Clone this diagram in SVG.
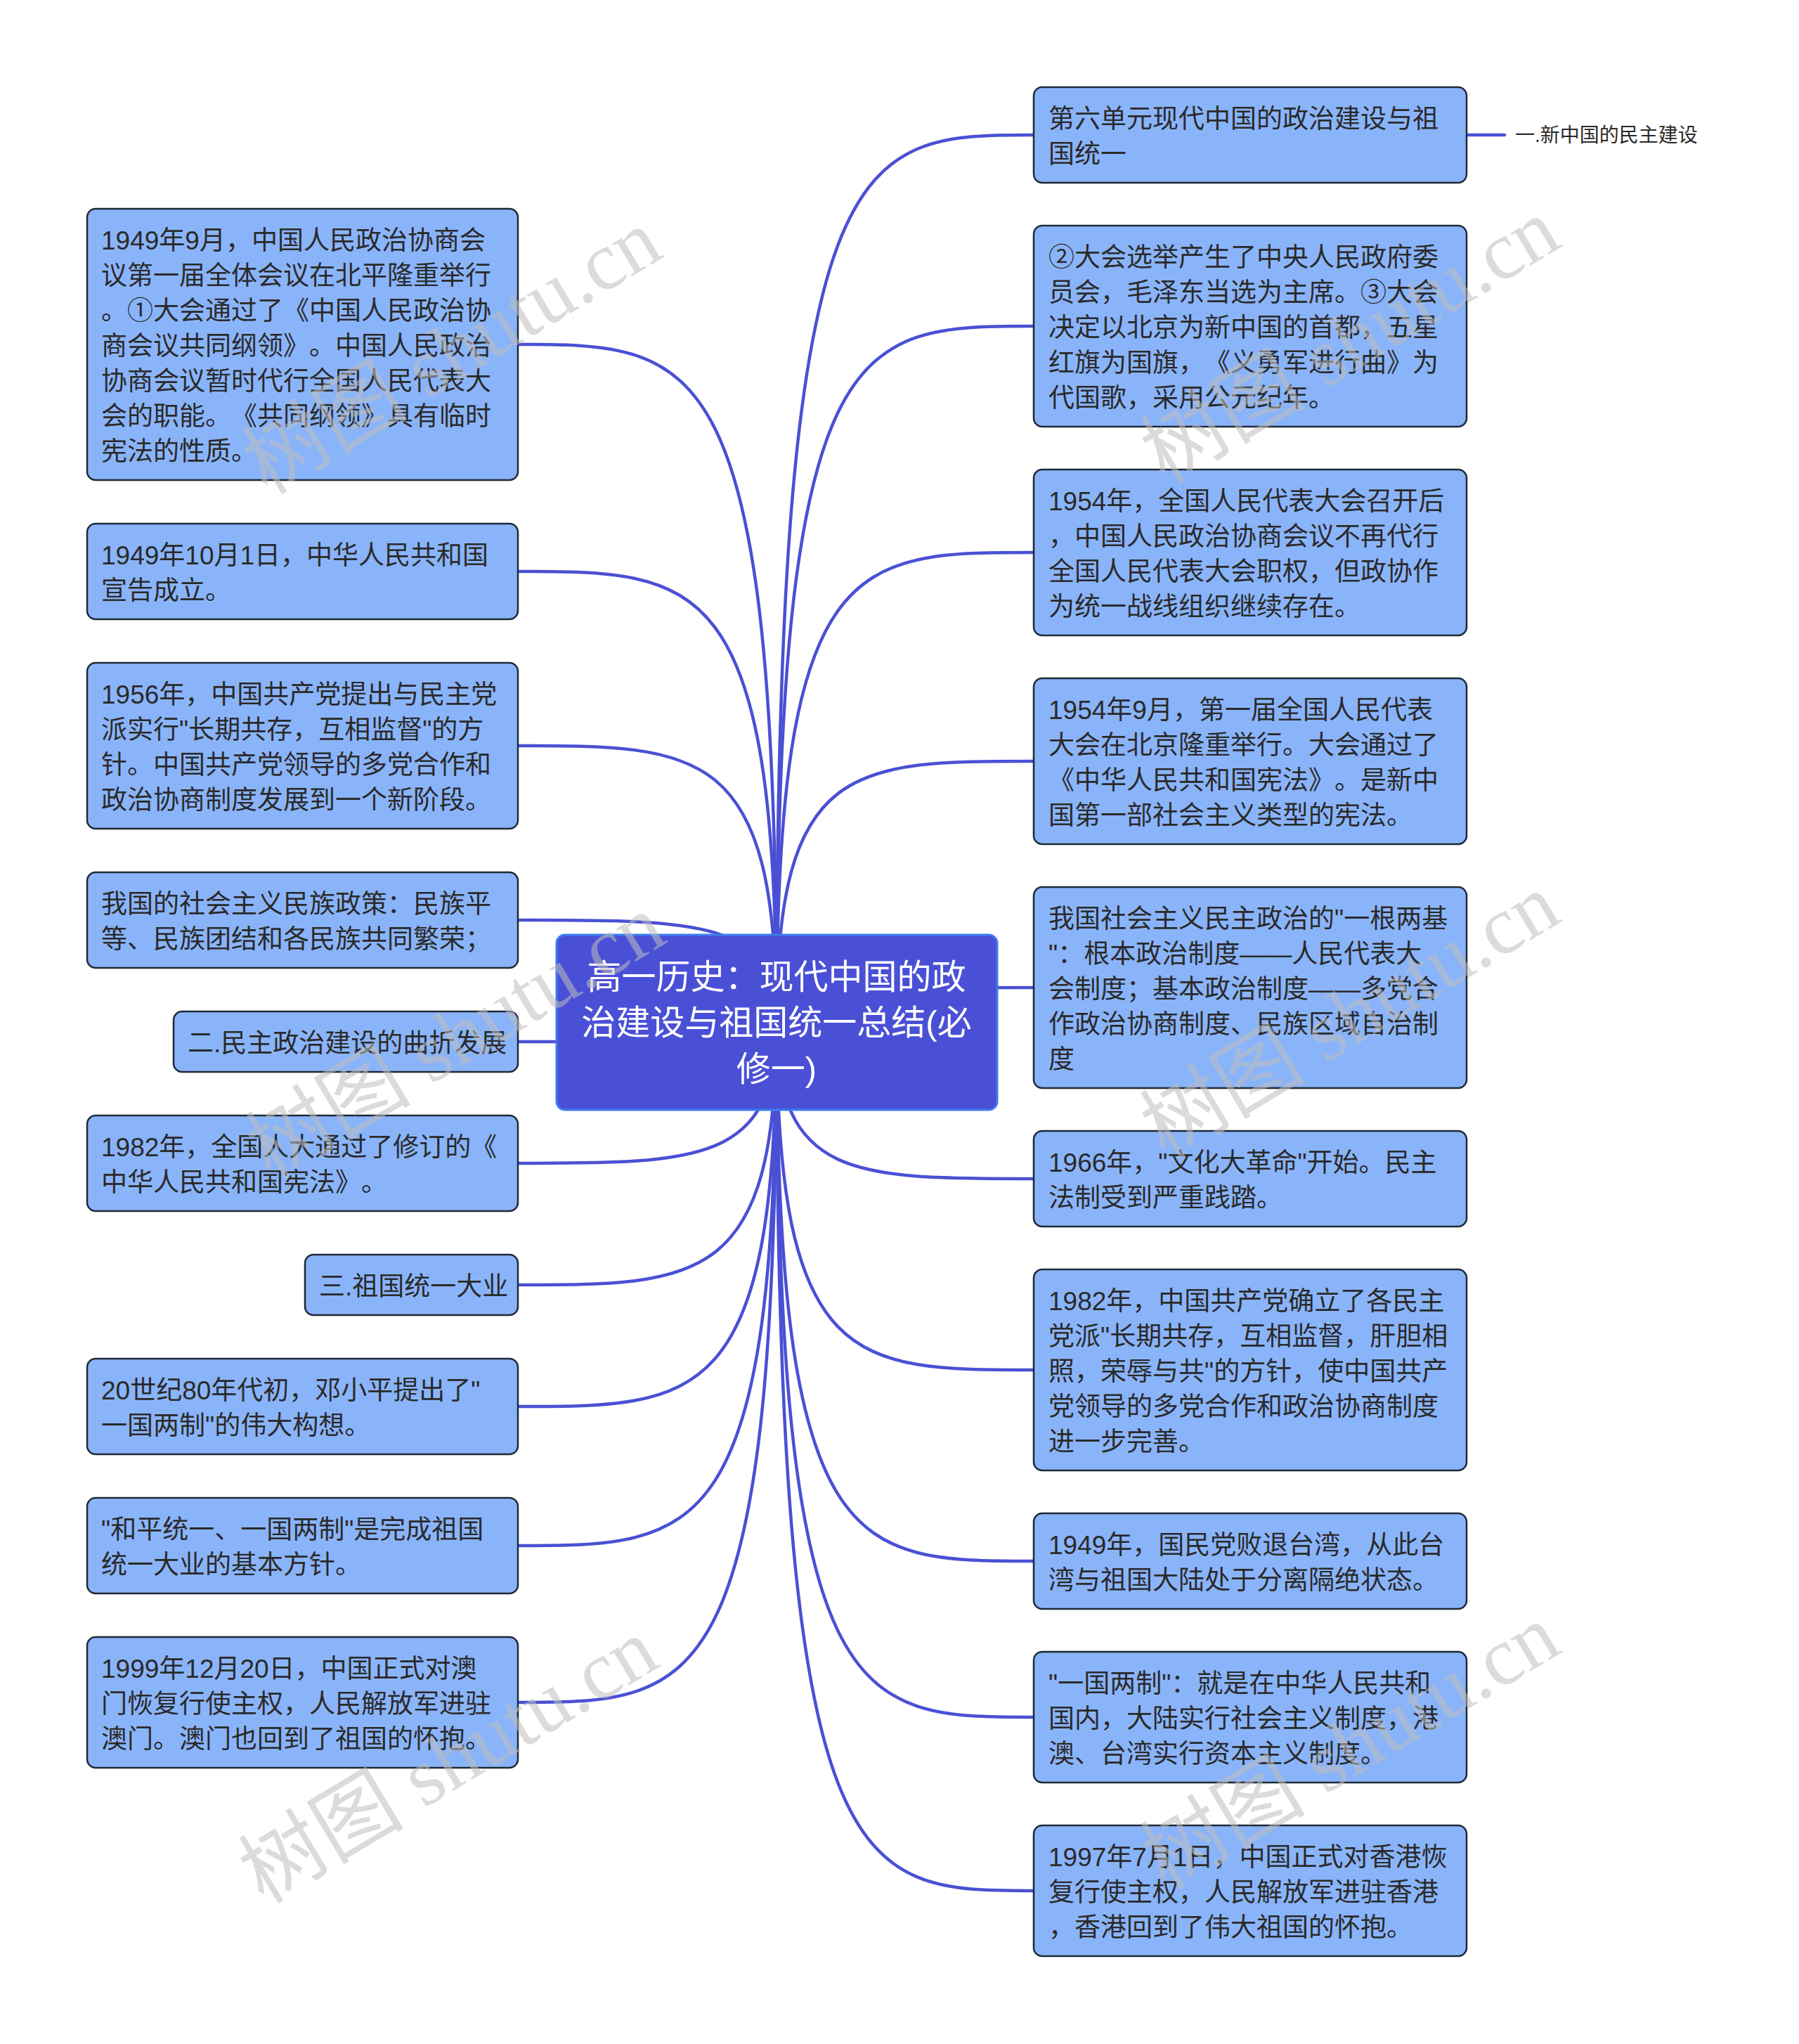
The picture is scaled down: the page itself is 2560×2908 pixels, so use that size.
<svg xmlns="http://www.w3.org/2000/svg" width="2560" height="2908" viewBox="0 0 2560 2908">
<style>
.bg{fill:#ffffff}
.edge{fill:none;stroke:#4a50d4;stroke-width:4.5;stroke-linecap:round}
.box{fill:#8ab4f9;stroke:#1f2937;stroke-width:2.5}
.t{font-family:'Liberation Sans','Noto Sans CJK SC',sans-serif;font-size:37px;fill:#2a2a2a;text-spacing-trim:space-all}
.root{fill:#4a50d6;stroke:#3b7cf0;stroke-width:3}
.rt{font-family:'Liberation Sans','Noto Sans CJK SC',sans-serif;font-size:49px;fill:#ffffff;text-anchor:middle;text-spacing-trim:space-all}
.lt{font-family:'Liberation Sans','Noto Sans CJK SC',sans-serif;font-size:28px;fill:#2a2a2a}
.wm{font-family:'Liberation Serif','Noto Sans CJK SC',serif;font-size:118px;fill:#bdbdbd;fill-opacity:0.55}
</style>
<rect class="bg" x="0" y="0" width="2560" height="2908"/>
<g id="connectors">
<path class="edge" d="M1105,1454 C1105,490 995,490 737,490"/>
<path class="edge" d="M1105,1454 C1105,813 995,813 737,813"/>
<path class="edge" d="M1105,1454 C1105,1061 995,1061 737,1061"/>
<path class="edge" d="M1105,1454 C1105,1309 995,1309 737,1309"/>
<path class="edge" d="M1105,1454 C1105,1482 995,1482 737,1482"/>
<path class="edge" d="M1105,1454 C1105,1655 995,1655 737,1655"/>
<path class="edge" d="M1105,1454 C1105,1828 995,1828 737,1828"/>
<path class="edge" d="M1105,1454 C1105,2001 995,2001 737,2001"/>
<path class="edge" d="M1105,1454 C1105,2199 995,2199 737,2199"/>
<path class="edge" d="M1105,1454 C1105,2422 995,2422 737,2422"/>
<path class="edge" d="M1105,1454 C1105,192 1215,192 1471,192"/>
<path class="edge" d="M1105,1454 C1105,464 1215,464 1471,464"/>
<path class="edge" d="M1105,1454 C1105,786 1215,786 1471,786"/>
<path class="edge" d="M1105,1454 C1105,1083 1215,1083 1471,1083"/>
<path class="edge" d="M1105,1454 C1105,1405 1215,1405 1471,1405"/>
<path class="edge" d="M1105,1454 C1105,1677 1215,1677 1471,1677"/>
<path class="edge" d="M1105,1454 C1105,1949 1215,1949 1471,1949"/>
<path class="edge" d="M1105,1454 C1105,2221 1215,2221 1471,2221"/>
<path class="edge" d="M1105,1454 C1105,2443 1215,2443 1471,2443"/>
<path class="edge" d="M1105,1454 C1105,2690 1215,2690 1471,2690"/>
<path class="edge" d="M2087,192 L2141,192"/>
</g>
<g id="root">
<rect class="root" x="792" y="1330" width="627" height="249" rx="12"/>
<text class="rt"><tspan x="1105" y="1407">高一历史：现代中国的政</tspan><tspan x="1105" y="1472">治建设与祖国统一总结(必</tspan><tspan x="1105" y="1538">修一)</tspan></text>
</g>
<g id="L1"><rect class="box" x="124" y="297" width="613" height="386" rx="12"/>
<text class="t"><tspan x="144" y="355">1949年9月，中国人民政治协商会</tspan><tspan x="144" y="405">议第一届全体会议在北平隆重举行</tspan><tspan x="144" y="455">。①大会通过了《中国人民政治协</tspan><tspan x="144" y="505">商会议共同纲领》。中国人民政治</tspan><tspan x="144" y="555">协商会议暂时代行全国人民代表大</tspan><tspan x="144" y="605">会的职能。《共同纲领》具有临时</tspan><tspan x="144" y="655">宪法的性质。</tspan></text></g>
<g id="L2"><rect class="box" x="124" y="745" width="613" height="136" rx="12"/>
<text class="t"><tspan x="144" y="803">1949年10月1日，中华人民共和国</tspan><tspan x="144" y="853">宣告成立。</tspan></text></g>
<g id="L3"><rect class="box" x="124" y="943" width="613" height="236" rx="12"/>
<text class="t"><tspan x="144" y="1001">1956年，中国共产党提出与民主党</tspan><tspan x="144" y="1051">派实行"长期共存，互相监督"的方</tspan><tspan x="144" y="1101">针。中国共产党领导的多党合作和</tspan><tspan x="144" y="1151">政治协商制度发展到一个新阶段。</tspan></text></g>
<g id="L4"><rect class="box" x="124" y="1241" width="613" height="136" rx="12"/>
<text class="t"><tspan x="144" y="1299">我国的社会主义民族政策：民族平</tspan><tspan x="144" y="1349">等、民族团结和各民族共同繁荣；</tspan></text></g>
<g id="L5"><rect class="box" x="247" y="1439" width="490" height="86" rx="12"/>
<text class="t"><tspan x="267" y="1497">二.民主政治建设的曲折发展</tspan></text></g>
<g id="L6"><rect class="box" x="124" y="1587" width="613" height="136" rx="12"/>
<text class="t"><tspan x="144" y="1645">1982年，全国人大通过了修订的《</tspan><tspan x="144" y="1695">中华人民共和国宪法》。</tspan></text></g>
<g id="L7"><rect class="box" x="434" y="1785" width="303" height="86" rx="12"/>
<text class="t"><tspan x="454" y="1843">三.祖国统一大业</tspan></text></g>
<g id="L8"><rect class="box" x="124" y="1933" width="613" height="136" rx="12"/>
<text class="t"><tspan x="144" y="1991">20世纪80年代初，邓小平提出了"</tspan><tspan x="144" y="2041">一国两制"的伟大构想。</tspan></text></g>
<g id="L9"><rect class="box" x="124" y="2131" width="613" height="136" rx="12"/>
<text class="t"><tspan x="144" y="2189">"和平统一、一国两制"是完成祖国</tspan><tspan x="144" y="2239">统一大业的基本方针。</tspan></text></g>
<g id="L10"><rect class="box" x="124" y="2329" width="613" height="186" rx="12"/>
<text class="t"><tspan x="144" y="2387">1999年12月20日，中国正式对澳</tspan><tspan x="144" y="2437">门恢复行使主权，人民解放军进驻</tspan><tspan x="144" y="2487">澳门。澳门也回到了祖国的怀抱。</tspan></text></g>
<g id="R1"><rect class="box" x="1471" y="124" width="616" height="136" rx="12"/>
<text class="t"><tspan x="1492" y="182">第六单元现代中国的政治建设与祖</tspan><tspan x="1492" y="232">国统一</tspan></text></g>
<g id="R1a"><text class="lt" x="2156" y="202">一.新中国的民主建设</text></g>
<g id="R2"><rect class="box" x="1471" y="321" width="616" height="286" rx="12"/>
<text class="t"><tspan x="1492" y="379">②大会选举产生了中央人民政府委</tspan><tspan x="1492" y="429">员会，毛泽东当选为主席。③大会</tspan><tspan x="1492" y="479">决定以北京为新中国的首都，五星</tspan><tspan x="1492" y="529">红旗为国旗，《义勇军进行曲》为</tspan><tspan x="1492" y="579">代国歌，采用公元纪年。</tspan></text></g>
<g id="R3"><rect class="box" x="1471" y="668" width="616" height="236" rx="12"/>
<text class="t"><tspan x="1492" y="726">1954年，全国人民代表大会召开后</tspan><tspan x="1492" y="776">，中国人民政治协商会议不再代行</tspan><tspan x="1492" y="826">全国人民代表大会职权，但政协作</tspan><tspan x="1492" y="876">为统一战线组织继续存在。</tspan></text></g>
<g id="R4"><rect class="box" x="1471" y="965" width="616" height="236" rx="12"/>
<text class="t"><tspan x="1492" y="1023">1954年9月，第一届全国人民代表</tspan><tspan x="1492" y="1073">大会在北京隆重举行。大会通过了</tspan><tspan x="1492" y="1123">《中华人民共和国宪法》。是新中</tspan><tspan x="1492" y="1173">国第一部社会主义类型的宪法。</tspan></text></g>
<g id="R5"><rect class="box" x="1471" y="1262" width="616" height="286" rx="12"/>
<text class="t"><tspan x="1492" y="1320">我国社会主义民主政治的"一根两基</tspan><tspan x="1492" y="1370">"：根本政治制度——人民代表大</tspan><tspan x="1492" y="1420">会制度；基本政治制度——多党合</tspan><tspan x="1492" y="1470">作政治协商制度、民族区域自治制</tspan><tspan x="1492" y="1520">度</tspan></text></g>
<g id="R6"><rect class="box" x="1471" y="1609" width="616" height="136" rx="12"/>
<text class="t"><tspan x="1492" y="1667">1966年，"文化大革命"开始。民主</tspan><tspan x="1492" y="1717">法制受到严重践踏。</tspan></text></g>
<g id="R7"><rect class="box" x="1471" y="1806" width="616" height="286" rx="12"/>
<text class="t"><tspan x="1492" y="1864">1982年，中国共产党确立了各民主</tspan><tspan x="1492" y="1914">党派"长期共存，互相监督，肝胆相</tspan><tspan x="1492" y="1964">照，荣辱与共"的方针，使中国共产</tspan><tspan x="1492" y="2014">党领导的多党合作和政治协商制度</tspan><tspan x="1492" y="2064">进一步完善。</tspan></text></g>
<g id="R8"><rect class="box" x="1471" y="2153" width="616" height="136" rx="12"/>
<text class="t"><tspan x="1492" y="2211">1949年，国民党败退台湾，从此台</tspan><tspan x="1492" y="2261">湾与祖国大陆处于分离隔绝状态。</tspan></text></g>
<g id="R9"><rect class="box" x="1471" y="2350" width="616" height="186" rx="12"/>
<text class="t"><tspan x="1492" y="2408">"一国两制"：就是在中华人民共和</tspan><tspan x="1492" y="2458">国内，大陆实行社会主义制度，港</tspan><tspan x="1492" y="2508">澳、台湾实行资本主义制度。</tspan></text></g>
<g id="R10"><rect class="box" x="1471" y="2597" width="616" height="186" rx="12"/>
<text class="t"><tspan x="1492" y="2655">1997年7月1日，中国正式对香港恢</tspan><tspan x="1492" y="2705">复行使主权，人民解放军进驻香港</tspan><tspan x="1492" y="2755">，香港回到了伟大祖国的怀抱。</tspan></text></g>
<g id="watermark">
<text class="wm" transform="translate(380,705) rotate(-31)">树图 shutu.cn</text>
<text class="wm" transform="translate(1658,690) rotate(-31)">树图 shutu.cn</text>
<text class="wm" transform="translate(385,1680) rotate(-31)">树图 shutu.cn</text>
<text class="wm" transform="translate(1658,1650) rotate(-31)">树图 shutu.cn</text>
<text class="wm" transform="translate(375,2710) rotate(-31)">树图 shutu.cn</text>
<text class="wm" transform="translate(1658,2690) rotate(-31)">树图 shutu.cn</text>
</g>
</svg>
